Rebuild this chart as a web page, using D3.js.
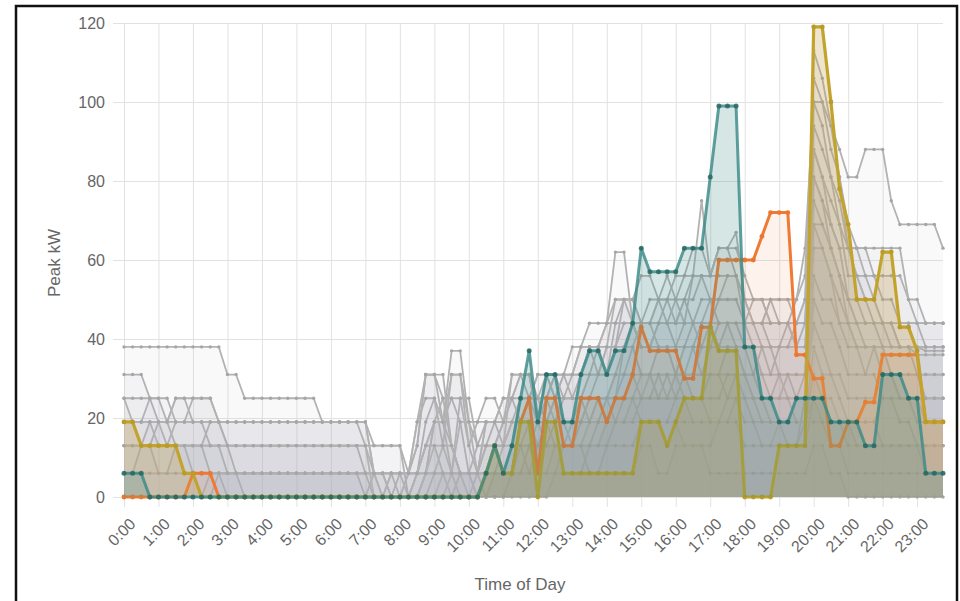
<!DOCTYPE html>
<html>
<head>
<meta charset="utf-8">
<script src="https://cdn.jsdelivr.net/npm/d3@7"></script>
<style>
  body { margin: 0; background: #fff; }
  svg { display: block; }
  text { font-family: "Liberation Sans", Arial, Helvetica, sans-serif; }
</style>
</head>
<body>
<svg id="chart" width="960" height="601"></svg>
<script>
// Hour tick labels along the x axis
const hourLabels = ["0:00","1:00","2:00","3:00","4:00","5:00","6:00","7:00","8:00","9:00","10:00","11:00",
  "12:00","13:00","14:00","15:00","16:00","17:00","18:00","19:00","20:00","21:00","22:00","23:00"];
const yTicks = [0, 20, 40, 60, 80, 100, 120];
const slotMinutes = 15;   // one reading every 15 minutes, 96 per day

// Peak kW per 15-minute slot, background days (grey)
const gray01 = [38,38,38,38, 38,38,38,38, 38,38,38,38, 31,31,25,25, 25,25,25,25, 25,25,25,19,
  19,19,19,19, 19,13,13,13, 13,6,6,6, 6,6,6,6, 6,6,13,13, 13,19,19,25,
  25,25,31,31, 31,31,38,38, 38,38,44,44, 44,44,50,50, 50,50,44,44, 44,50,50,50,
  44,44,44,50, 44,44,50,63, 100,100,94,88, 81,81,88,88, 88,75,69,69, 69,69,69,63];
const gray02 = [31,31,31,25, 19,19,25,25, 19,19,19,19, 19,19,19,19, 19,19,19,19, 19,19,19,19,
  19,19,19,19, 19,6,6,6, 6,6,13,31, 31,19,13,6, 6,6,19,19, 25,25,31,31,
  25,31,31,25, 25,31,38,38, 44,44,50,50, 56,56,50,50, 56,56,63,63, 56,56,56,56,
  50,50,50,50, 50,50,44,44, 88,81,69,63, 63,63,63,63, 63,63,63,50, 50,44,44,44];
const gray03 = [25,25,25,25, 25,19,25,25, 25,25,25,19, 13,13,13,13, 13,13,13,13, 13,13,13,13,
  13,13,13,13, 13,13,13,13, 13,0,0,6, 19,25,25,19, 6,0,6,13, 19,31,31,25,
  31,31,25,31, 38,38,44,44, 44,50,50,44, 44,44,44,50, 44,50,56,56, 56,63,63,56,
  50,44,44,38, 38,44,44,50, 88,81,75,69, 56,56,56,56, 56,56,56,50, 44,38,38,38];
const gray04 = [19,19,19,19, 19,19,19,19, 25,25,25,19, 19,19,19,19, 19,19,19,19, 19,19,19,19,
  19,19,19,19, 13,6,6,6, 6,6,6,13, 19,19,31,31, 19,19,19,19, 25,25,19,25,
  25,19,25,25, 31,31,31,31, 38,38,38,44, 38,38,44,44, 38,38,44,50, 50,44,44,44,
  38,38,31,31, 38,38,44,44, 81,75,69,63, 50,50,44,44, 44,38,38,38, 38,38,38,38];
const gray05 = [13,13,13,13, 13,13,13,13, 13,13,19,19, 13,13,13,13, 13,13,13,13, 13,13,13,13,
  13,13,13,13, 6,6,6,0, 6,0,6,19, 25,19,37,37, 19,13,13,19, 19,25,31,31,
  19,25,31,31, 25,25,31,38, 31,38,50,50, 44,50,50,44, 44,44,56,56, 50,50,50,50,
  44,44,44,44, 44,44,38,38, 69,69,63,56, 50,44,44,44, 38,38,38,38, 38,37,37,37];
const gray06 = [19,19,13,13, 19,19,13,13, 13,13,13,13, 6,6,6,6, 6,6,6,6, 6,6,6,6,
  6,6,6,6, 6,6,6,6, 0,6,13,31, 31,25,13,6, 6,6,13,13, 19,19,25,25,
  19,19,19,25, 25,25,25,31, 31,44,44,44, 38,38,38,38, 31,38,38,38, 38,38,44,44,
  44,38,38,31, 31,31,31,31, 63,63,56,50, 44,38,38,38, 38,31,31,31, 31,31,31,31];
const gray07 = [25,19,19,25, 25,25,19,19, 19,19,13,13, 13,6,6,6, 6,6,6,6, 6,6,6,6,
  6,6,6,6, 6,0,0,6, 6,6,19,25, 25,13,31,31, 13,6,6,13, 13,19,19,19,
  13,19,19,19, 19,19,25,25, 25,31,31,38, 31,31,38,38, 31,31,38,44, 44,38,38,38,
  31,31,38,38, 31,31,25,25, 56,50,50,44, 44,38,38,38, 31,31,25,25, 25,25,25,25];
const gray08 = [13,13,13,19, 19,13,13,13, 13,13,6,6, 6,6,6,6, 6,6,6,6, 6,6,6,6,
  6,6,6,6, 0,6,6,0, 0,0,6,13, 13,6,6,25, 25,13,19,19, 13,13,25,25,
  31,31,25,19, 19,19,19,25, 25,25,31,31, 25,25,31,31, 25,31,31,31, 31,31,38,38,
  38,31,25,25, 25,25,25,25, 50,44,44,38, 31,31,31,38, 38,31,25,25, 19,19,19,19];
const gray09 = [6,6,6,6, 6,6,6,6, 6,6,6,6, 6,6,0,0, 0,0,0,0, 0,0,0,0,
  0,0,0,0, 0,0,0,0, 0,0,0,6, 19,19,6,0, 0,6,19,19, 19,25,25,25,
  25,19,25,31, 31,38,38,38, 44,62,62,44, 38,38,44,44, 44,50,50,56, 56,63,63,63,
  56,50,50,44, 44,44,38,44, 94,88,81,75, 63,63,63,56, 50,50,44,44, 44,44,44,44];
const gray10 = [6,6,13,13, 6,6,13,13, 6,6,6,6, 0,0,0,0, 0,0,0,0, 0,0,0,0,
  0,0,0,0, 0,0,0,0, 0,0,0,0, 6,6,0,6, 6,0,0,6, 6,13,13,6,
  13,13,19,19, 13,19,19,19, 25,25,38,38, 31,31,25,25, 31,31,25,25, 31,31,25,31,
  31,25,25,19, 19,19,25,25, 44,38,31,31, 25,25,25,25, 31,31,25,25, 25,19,19,19];
const gray11 = [0,0,0,0, 0,0,0,0, 0,0,6,6, 6,6,6,6, 6,6,6,6, 6,6,6,6,
  6,6,6,6, 6,6,6,6, 6,6,6,6, 6,6,6,6, 6,6,0,0, 0,6,13,13,
  6,6,13,13, 13,13,6,6, 13,19,25,25, 19,19,19,19, 25,25,19,19, 19,19,19,25,
  25,19,19,19, 19,13,13,19, 38,31,31,25, 19,19,19,19, 25,25,19,19, 13,13,13,13];
const gray12 = [0,0,0,0, 0,0,0,0, 0,0,0,0, 0,0,0,0, 0,0,0,0, 0,0,0,0,
  0,0,0,0, 0,0,0,6, 6,6,19,31, 31,31,13,6, 0,0,0,6, 13,31,31,31,
  19,31,31,31, 31,38,38,31, 38,50,50,50, 44,44,50,56, 50,56,56,75, 56,63,63,67,
  50,44,44,50, 50,50,50,56, 106,100,88,81, 69,63,56,50, 44,44,38,38, 38,38,38,38];
const gray13 = [0,0,0,0, 0,0,0,0, 0,0,0,0, 0,0,0,0, 0,0,0,0, 0,0,0,0,
  0,0,0,0, 0,0,0,0, 0,0,6,13, 19,19,25,25, 13,19,25,25, 19,19,19,25,
  25,25,19,25, 25,25,19,19, 25,31,38,38, 44,44,38,38, 38,44,44,38, 38,44,44,38,
  38,38,31,25, 25,31,31,31, 81,75,63,56, 44,44,38,38, 31,31,31,31, 31,25,25,25];
const gray14 = [0,0,0,0, 0,0,0,0, 0,0,0,0, 0,0,0,0, 0,0,0,0, 0,0,0,0,
  0,0,0,0, 0,0,0,0, 0,0,0,6, 13,13,6,6, 6,6,6,6, 6,6,6,13,
  13,13,13,13, 13,13,13,19, 19,25,25,25, 25,25,25,31, 31,25,25,25, 25,25,31,31,
  31,25,19,19, 19,19,19,19, 31,25,25,19, 19,13,13,13, 13,13,13,13, 13,6,6,6];
const gray15 = [0,0,0,0, 0,0,0,0, 0,0,0,6, 6,6,6,6, 6,6,6,6, 6,6,6,6,
  6,6,6,6, 6,6,0,0, 0,6,6,6, 6,13,13,6, 6,6,6,6, 6,6,6,13,
  19,19,13,13, 19,19,19,25, 25,31,31,31, 31,31,31,25, 25,31,31,31, 31,31,31,31,
  25,25,25,25, 31,25,19,19, 25,25,19,19, 19,19,19,19, 13,13,13,13, 13,13,13,13];
const gray16 = [0,0,0,0, 0,0,0,0, 0,0,0,0, 0,0,0,0, 0,0,0,0, 0,0,0,0,
  0,0,0,0, 0,0,0,0, 0,0,0,0, 0,0,6,6, 6,6,6,6, 6,6,6,6,
  6,6,6,13, 13,13,13,13, 19,19,19,19, 25,25,25,25, 25,25,25,25, 19,19,25,25,
  19,19,13,13, 13,13,13,25, 113,106,94,81, 63,56,50,50, 44,44,38,38, 31,31,31,31];
const gray17 = [0,0,0,0, 0,0,0,0, 0,0,0,0, 0,0,0,0, 0,0,0,0, 0,0,0,0,
  0,0,0,0, 0,0,0,0, 0,0,0,0, 0,0,0,6, 6,13,13,13, 13,19,19,19,
  19,13,13,13, 13,19,25,25, 25,19,19,25, 31,31,25,25, 31,38,38,31, 38,38,38,38,
  31,31,25,25, 25,25,25,31, 69,63,56,44, 38,38,31,31, 25,25,25,25, 25,25,25,25];
const gray18 = [0,0,0,0, 0,0,0,0, 0,0,0,0, 0,0,0,0, 0,0,0,0, 0,0,0,0,
  0,0,0,0, 0,0,0,0, 0,0,0,0, 0,0,0,0, 0,0,0,0, 0,6,6,6,
  6,6,6,6, 6,6,13,13, 13,13,13,13, 19,19,19,19, 19,13,13,13, 13,19,19,19,
  13,13,13,13, 13,13,13,13, 25,19,13,13, 6,6,6,6, 6,6,6,6, 6,6,6,6];
const gray19 = [0,0,0,0, 0,0,0,0, 0,0,0,0, 0,0,0,0, 0,0,0,0, 0,0,0,0,
  0,0,0,0, 0,0,0,0, 0,0,0,0, 0,0,0,0, 0,0,0,0, 0,0,0,0,
  0,0,6,6, 6,6,6,6, 6,6,6,6, 13,13,6,6, 13,13,13,13, 6,6,6,6,
  6,6,6,6, 6,6,6,6, 13,13,6,6, 0,0,0,0, 0,0,0,0, 0,0,0,0];
const gray20 = [19,19,19,19, 13,13,19,19, 19,19,19,19, 19,19,19,19, 19,19,19,19, 19,19,19,19,
  19,19,19,19, 19,6,0,0, 0,0,0,0, 0,6,6,19, 19,6,6,6, 6,13,13,19,
  19,19,19,19, 19,25,31,31, 31,31,38,44, 44,44,44,44, 50,44,44,44, 50,50,56,56,
  44,44,38,38, 38,38,38,38, 75,69,63,56, 50,44,44,44, 44,44,38,38, 36,36,36,36];
const gray21 = [13,13,13,13, 13,13,13,13, 13,13,13,13, 13,13,13,13, 13,13,13,13, 13,13,13,13,
  13,13,13,13, 13,0,0,0, 0,0,0,0, 0,0,0,0, 0,0,6,6, 6,6,6,6,
  13,13,13,13, 13,13,13,13, 19,19,19,19, 19,19,19,19, 19,19,19,19, 19,19,19,19,
  13,13,13,13, 19,19,19,19, 19,19,19,19, 13,13,13,13, 13,13,13,13, 13,13,13,13];
const gray22 = [0,0,0,0, 0,0,0,0, 0,0,0,0, 0,0,0,0, 0,0,0,0, 0,0,0,0,
  0,0,0,0, 0,0,0,0, 0,0,0,0, 0,0,0,0, 0,0,6,6, 6,6,13,13,
  13,13,13,13, 13,13,19,19, 19,25,25,25, 25,31,31,31, 31,31,31,38, 44,44,44,44,
  44,50,50,44, 44,44,44,50, 100,94,81,69, 63,56,50,44, 44,44,44,44, 44,44,44,44];

// Highlighted days
const tealDay = [6,6,6,0, 0,0,0,0, 0,0,0,0, 0,0,0,0, 0,0,0,0, 0,0,0,0,
  0,0,0,0, 0,0,0,0, 0,0,0,0, 0,0,0,0, 0,0,6,13, 6,13,25,37,
  19,31,31,19, 19,31,37,37, 31,37,37,44, 63,57,57,57, 57,63,63,63, 81,99,99,99,
  38,38,25,25, 19,19,25,25, 25,25,19,19, 19,19,13,13, 31,31,31,25, 25,6,6,6];
const orangeDay = [0,0,0,0, 0,0,0,0, 6,6,6,0, 0,0,0,0, 0,0,0,0, 0,0,0,0,
  0,0,0,0, 0,0,0,0, 0,0,0,0, 0,0,0,0, 0,0,6,13, 6,6,19,25,
  6,25,25,13, 13,25,25,25, 19,25,25,31, 43,37,37,37, 37,30,30,43, 43,60,60,60,
  60,60,66,72, 72,72,36,36, 30,30,13,13, 19,19,24,24, 36,36,36,36, 36,19,19,19];
const goldDay = [19,19,13,13, 13,13,13,6, 6,0,0,0, 0,0,0,0, 0,0,0,0, 0,0,0,0,
  0,0,0,0, 0,0,0,0, 0,0,0,0, 0,0,0,0, 0,0,6,13, 6,6,19,19,
  0,19,19,6, 6,6,6,6, 6,6,6,6, 19,19,19,13, 19,25,25,25, 43,37,37,37,
  0,0,0,0, 13,13,13,13, 119,119,100,78, 69,50,50,50, 62,62,43,43, 37,19,19,19];

const grayDays = [gray01, gray02, gray03, gray04, gray05, gray06, gray07, gray08, gray09, gray10, gray11,
  gray12, gray13, gray14, gray15, gray16, gray17, gray18, gray19, gray20, gray21, gray22];

const svg = d3.select("#chart");
const plotLeft = 124, plotRight = 943, plotTop = 23, plotBottom = 497;

const x = d3.scaleLinear().domain([0, 95 * slotMinutes]).range([plotLeft, plotRight]);
const y = d3.scaleLinear().domain([0, 120]).range([plotBottom, plotTop]);

// Frame around the chart
svg.append("path")
  .attr("d", "M16,610 L16,6 L957,6 L957,610")
  .attr("fill", "none").attr("stroke", "#111").attr("stroke-width", 2.5);

// Horizontal grid + y labels
const yAxis = svg.append("g")
  .attr("transform", `translate(${plotLeft - 11},0)`)
  .call(d3.axisLeft(y).tickValues(yTicks).tickSize(-(plotRight - plotLeft + 11)).tickPadding(8));
yAxis.select(".domain").remove();
yAxis.selectAll(".tick line").attr("stroke", "#e2e2e2");
yAxis.selectAll(".tick text").attr("fill", "#666").style("font-size", "16px");

// Vertical grid + rotated time labels
const xAxis = svg.append("g")
  .attr("transform", `translate(0,${plotBottom + 10})`)
  .call(d3.axisBottom(x)
    .tickValues(hourLabels.map((_, i) => i * 60))
    .tickFormat((d, i) => hourLabels[i])
    .tickSize(-(plotBottom + 10 - plotTop)));
xAxis.select(".domain").remove();
xAxis.selectAll(".tick line").attr("stroke", "#e2e2e2");
xAxis.selectAll(".tick text")
  .attr("fill", "#666").style("font-size", "16px")
  .attr("x", null).attr("y", null).attr("dy", "0.35em")
  .attr("text-anchor", "end")
  .attr("transform", "translate(8,14) rotate(-45)");

// Axis titles
svg.append("text")
  .attr("transform", "translate(60,263) rotate(-90)")
  .attr("text-anchor", "middle").attr("fill", "#666").style("font-size", "17px")
  .text("Peak kW");
svg.append("text")
  .attr("x", 520).attr("y", 590)
  .attr("text-anchor", "middle").attr("fill", "#666").style("font-size", "17px")
  .text("Time of Day");

const line = d3.line().x((d, i) => x(i * slotMinutes)).y(d => y(d));
const area = d3.area().x((d, i) => x(i * slotMinutes)).y0(y(0)).y1(d => y(d));

const plot = svg.append("g");

function drawDay(values, style) {
  const g = plot.append("g");
  g.append("path").datum(values).attr("d", area).attr("fill", style.fill);
  g.append("path").datum(values).attr("d", line)
    .attr("fill", "none").attr("stroke", style.stroke)
    .attr("stroke-width", style.width).attr("stroke-linejoin", "round")
    .attr("stroke-opacity", style.opacity || 1);
  g.selectAll("circle").data(values).join("circle")
    .attr("cx", (d, i) => x(i * slotMinutes)).attr("cy", d => y(d))
    .attr("r", style.r).attr("fill", style.dot)
    .attr("fill-opacity", style.opacity || 1);
}

grayDays.forEach(vals => drawDay(vals, {
  fill: "rgba(180,180,188,0.075)", stroke: "#b2b2b2", dot: "#a6a6a6", width: 1.8, r: 1.7
}));

drawDay(orangeDay, { fill: "rgba(240,122,48,0.09)", stroke: "#ef7a33", dot: "#ec7530", width: 3, r: 2.4 });
drawDay(goldDay, { fill: "rgba(196,160,80,0.28)", stroke: "#c2a32c", dot: "#b99c28", width: 3.2, r: 2.4 });
drawDay(tealDay, { fill: "rgba(64,140,138,0.22)", stroke: "#3b8a87", dot: "#24665f", width: 3, r: 2.5, opacity: 0.82 });
</script>
</body>
</html>
